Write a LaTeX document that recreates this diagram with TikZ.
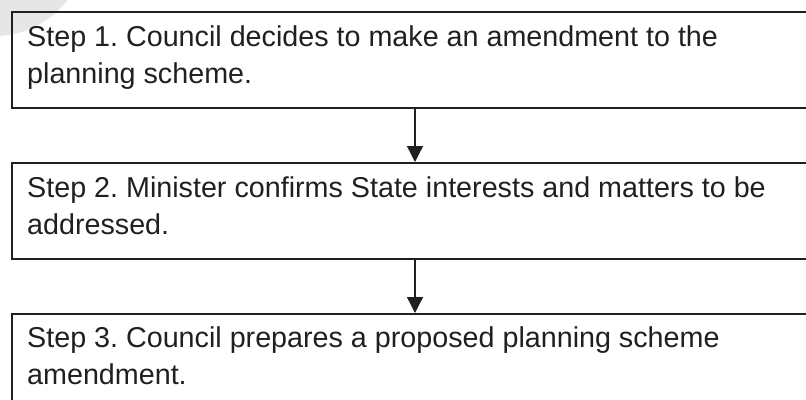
\documentclass[tikz,border=0pt]{standalone}
\usepackage{fontspec}
\setmainfont{Liberation Sans}
\usetikzlibrary{arrows.meta}
\definecolor{ink}{HTML}{231F20}
\definecolor{wm}{HTML}{E6E6E6}
\frenchspacing
\tikzset{
  stepbox/.style={draw=ink, line width=2pt, rectangle, anchor=north west,
    minimum width=806pt, minimum height=96pt, inner sep=0pt},
  steptext/.style={anchor=base west, align=left, inner sep=0pt, text=ink,
    font=\fontsize{28.7pt}{37pt}\selectfont\frenchspacing},
  flow/.style={draw=ink, line width=1.3pt, -{Triangle[length=16pt,width=16pt]}}
}
\begin{document}
\begin{tikzpicture}[x=1pt,y=-1pt]
\useasboundingbox (0,0) rectangle (806,399);
\clip (0,0) rectangle (806,399);
\fill[wm] (-5,-55) circle (91);
\node[stepbox] (box1) at (11,11) {};
\node[stepbox] (box2) at (11,162) {};
\node[stepbox] (box3) at (11,313) {};
\node[steptext] (t1) at (27,83.5) {Step 1. Council decides to make an amendment to the\\planning scheme.};
\node[steptext] (t2) at (27,234) {Step 2. Minister confirms State interests and matters to be\\addressed.};
\node[steptext] (t3) at (27,384) {Step 3. Council prepares a proposed planning scheme\\amendment.};
\draw[flow] (box1.south) -- (box2.north);
\draw[flow] (box2.south) -- (box3.north);
\end{tikzpicture}
\end{document}
